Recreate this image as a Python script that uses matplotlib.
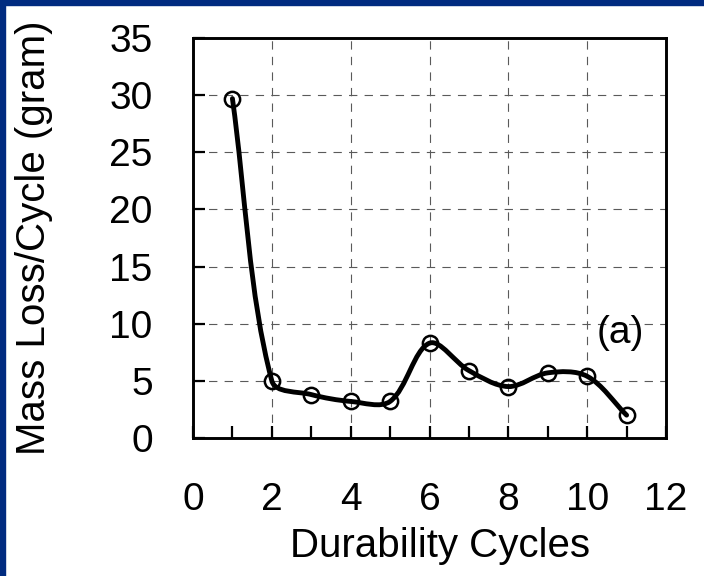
import numpy as np
import matplotlib
matplotlib.use("Agg")
import matplotlib.pyplot as plt
from matplotlib.path import Path
from matplotlib.patches import PathPatch, Rectangle

plt.rcParams['font.family'] = ['Liberation Sans', 'DejaVu Sans']

# mass loss per durability cycle
cycles = [1, 2, 3, 4, 5, 6, 7, 8, 9, 10, 11]
mass_loss = [29.7, 5.0, 3.8, 3.2, 3.2, 8.3, 5.9, 4.5, 5.7, 5.4, 2.0]

x_ticks = [0, 2, 4, 6, 8, 10, 12]
y_ticks = [0, 5, 10, 15, 20, 25, 30, 35]
panel_tag = "(a)"

NAVY = '#002B80'
GRID = '#5a5a5a'


# Bezier path through the points, tangents scaled by the screen length of
# the neighbouring segments (spreadsheet-style smoothed line)
def smooth_path(ax, xs, ys, t=1/3):
    pts = ax.transData.transform(np.column_stack([xs, ys]))
    n = len(pts)
    verts = [pts[0]]
    codes = [Path.MOVETO]
    for i in range(n - 1):
        p0, p1 = pts[i], pts[i + 1]
        prev = pts[i - 1] if i > 0 else p0
        nxt = pts[i + 2] if i + 2 < n else p1
        seg = np.hypot(*(p1 - p0))
        l_in = np.hypot(*(p0 - prev))
        l_out = np.hypot(*(nxt - p1))
        c1 = p0 + t * (p1 - prev) * seg / (l_in + seg)
        c2 = p1 - t * (nxt - p0) * seg / (seg + l_out)
        verts += [c1, c2, p1]
        codes += [Path.CURVE4] * 3
    verts = ax.transData.inverted().transform(np.array(verts))
    return Path(verts, codes)


fig = plt.figure(figsize=(7.04, 5.76), dpi=100)
fig.patches.append(Rectangle((0, 1 - 5/576), 1, 5/576, transform=fig.transFigure,
                             color=NAVY, zorder=0))
fig.patches.append(Rectangle((0, 0), 5/704, 1, transform=fig.transFigure,
                             color=NAVY, zorder=0))

ax = fig.add_axes([193/704, 1 - 438/576, 473/704, 400/576])
ax.set_xlim(0, 12)
ax.set_ylim(0, 35)

ax.set_xticks(x_ticks)
ax.set_xticks(cycles, minor=True)
ax.set_yticks(y_ticks)
ax.tick_params(axis='both', which='both', direction='in', length=8.6, width=1.6,
               labelsize=28)
ax.tick_params(axis='x', which='major', pad=32)
ax.tick_params(axis='y', which='major', pad=29)

for side in ax.spines.values():
    side.set_linewidth(2.1)

ax.set_axisbelow(True)
ax.grid(True, which='major', color=GRID, linewidth=0.8, linestyle=(0, (7.5, 6.5)))

ax.add_patch(PathPatch(smooth_path(ax, cycles, mass_loss), fill=False,
                       edgecolor='black', linewidth=3.5, capstyle='round',
                       joinstyle='round', zorder=3))
ax.plot(cycles, mass_loss, linestyle='none', marker='o', markersize=11,
        markerfacecolor='none', markeredgecolor='black', markeredgewidth=1.8,
        zorder=4)

ax.text(10.83, 9.2, panel_tag, fontsize=28, ha='center', va='center')

ax.set_xlabel("Durability Cycles", fontsize=29, va='center')
ax.xaxis.set_label_coords(0.522, -0.27)
ax.set_ylabel("Mass Loss/Cycle (gram)", fontsize=29, va='center')
ax.yaxis.set_label_coords(-0.337, 0.5)

fig.savefig("out.png", dpi=100)
